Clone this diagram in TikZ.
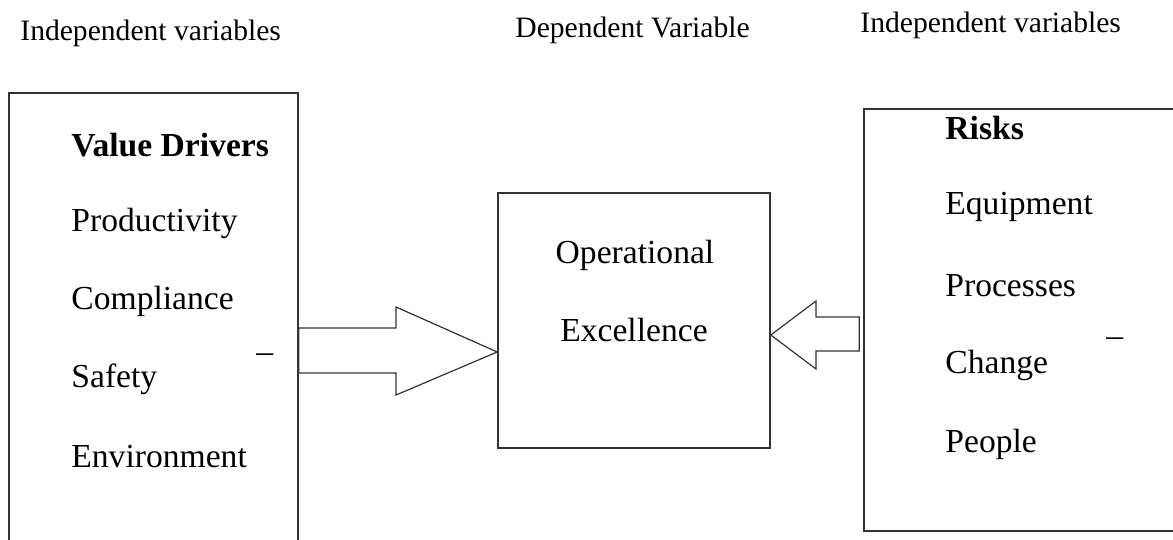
\documentclass[tikz,border=0pt]{standalone}
\usepackage{fontspec}
\setmainfont{Liberation Serif}
\usetikzlibrary{positioning}

\begin{document}
\begin{tikzpicture}[x=0.5pt,y=-0.5pt,
box/.style={draw=black!80,line width=0.8pt,inner sep=0pt},
item/.style={anchor=west,inner sep=0pt,font=\fontsize{16.8}{20}\selectfont},
head/.style={anchor=west,inner sep=0pt,font=\fontsize{14.8}{18}\selectfont},
bigarrow/.style={draw=black!80,line width=0.6pt,line join=miter}]
\clip (0,0) rectangle (1173,540);
% headings
\node[head] (hleft) at (20,33) {Independent variables};
\node[head] (hmid) at (515,30) {Dependent Variable};
\node[head] (hright) at (860,25) {Independent variables};
% boxes
\node[box,minimum width=144.5pt,minimum height=238.5pt] (drivers) at (153.5,331.5) {};
\node[box,minimum width=136pt,minimum height=127.5pt] (excel) at (634,320.5) {};
\node[box,minimum width=168pt,minimum height=211pt] (risks) at (1032,320) {};
% left list
\node[item,font=\fontsize{16.8}{20}\selectfont\bfseries] (vd) at (71,145) {Value Drivers};
\foreach \txt [count=\i] in {Productivity,Compliance,Safety,Environment}
    \node[item] (drv\i) at (71,145+78*\i) {\txt};
\node[item] (dashl) at (256,358) {--};
% middle
\node[item,anchor=center] (op) at (635,255) {Operational};
\node[item,anchor=center] (ex) at (634,330) {Excellence};
% right list
\node[item,font=\fontsize{16.8}{20}\selectfont\bfseries] (rk) at (945,128) {Risks};
\foreach \txt [count=\i] in {Equipment,Processes,Change,People}
    \node[item] (rsk\i) at (945,128+79*\i) {\txt};
\node[item] (dashr) at (1106,342) {--};
% block arrows
\draw[bigarrow] (drivers.east |- 0,328) -- (396,328) -- (396,307) -- (excel.west |- 0,352)
    -- (396,395) -- (396,373) -- (drivers.east |- 0,373) -- cycle;
\draw[bigarrow] ([xshift=-2pt]risks.west |- 0,317) -- (816,317) -- (816,301) -- (excel.east |- 0,335)
    -- (816,369) -- (816,351) -- ([xshift=-2pt]risks.west |- 0,351) -- cycle;
\end{tikzpicture}
\end{document}
